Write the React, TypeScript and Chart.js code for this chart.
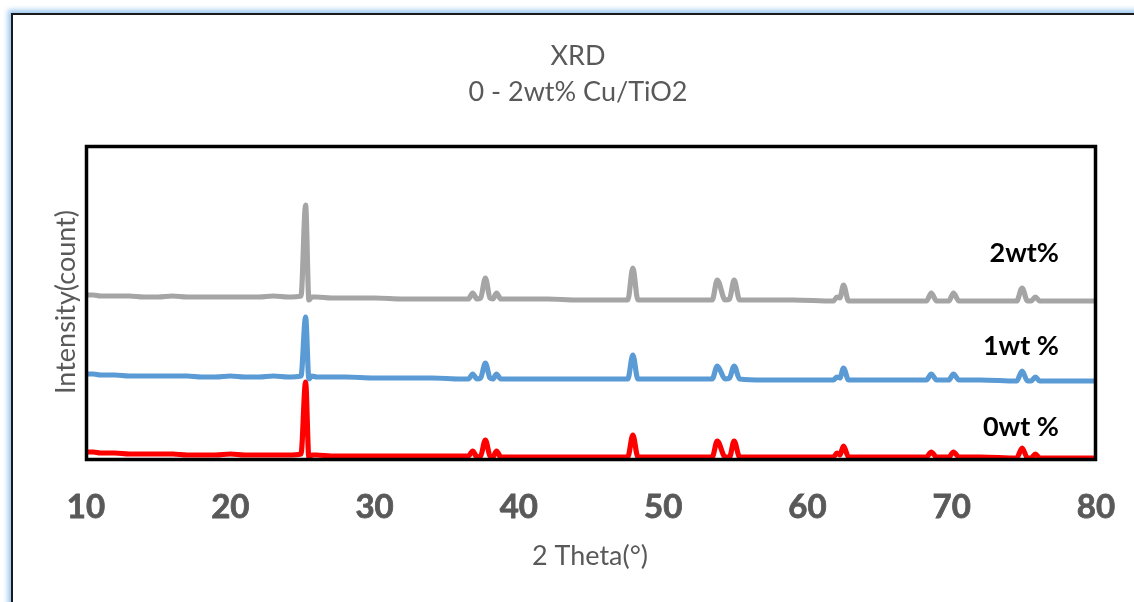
import React, { useEffect, useRef } from "react";
import { Chart, registerables } from "chart.js";

Chart.register(...registerables);

// 2-theta positions (degrees)
const theta = [
  10, 10.5, 11, 12, 13, 14, 15, 16, 17, 18, 19, 20, 21, 22, 23, 24,
  24.9, 25.22, 25.45, 25.65, 26, 27, 28,
  30, 32, 34, 36,
  36.5, 36.8, 37.1, 37.35, 37.68, 38.0, 38.2, 38.45, 38.75,
  40, 42, 44, 46,
  47.55, 47.9, 48.25,
  50, 52, 53.4,
  53.75, 54.3, 54.6, 54.92, 55.3,
  57, 59, 61.8,
  62.05, 62.25, 62.5, 62.85,
  65, 67, 68.25,
  68.58, 68.95, 69.8, 70.12, 70.5,
  72, 74.5,
  74.88, 75.25, 75.5, 75.8, 76.1,
  78, 80,
];

// intensity (arbitrary counts, stacked offsets as drawn)
const wt2 = [
  165, 165, 164, 164, 164, 163, 163, 164, 163, 163, 163, 163, 163, 163, 164, 163,
  164, 255, 160, 163, 163, 162, 162,
  162, 161, 161, 161,
  161, 167, 161, 162, 182, 162, 161, 167, 161,
  161, 161, 160, 160,
  160, 192, 160,
  160, 160, 160,
  180, 160, 161, 180, 160,
  160, 160, 159,
  163, 162, 175, 159,
  159, 159, 159,
  167, 159, 159, 167, 159,
  159, 159,
  172, 159, 159, 163, 159,
  159, 159,
];

const wt1 = [
  86, 86, 85, 85, 84, 84, 84, 84, 84, 83, 83, 84, 83, 83, 84, 83,
  84, 143, 81, 84, 83, 83, 83,
  82, 82, 82, 81,
  81, 86, 81, 82, 97, 82, 81, 86, 81,
  81, 81, 81, 81,
  81, 105, 81,
  81, 81, 81,
  94, 81, 82, 94, 81,
  80, 80, 80,
  83, 82, 92, 80,
  80, 80, 80,
  86, 80, 80, 86, 80,
  80, 79,
  89, 79, 79, 83, 79,
  79, 79,
];

const wt0 = [
  8, 8, 7, 7, 6, 6, 6, 6, 5, 5, 5, 6, 5, 5, 5, 5,
  6, 78, 2, 5, 5, 4, 4,
  4, 4, 4, 4,
  4, 9, 3, 4, 20, 4, 3, 9, 3,
  3, 3, 3, 3,
  3, 25, 3,
  3, 3, 3,
  19, 3, 3, 19, 3,
  3, 3, 3,
  7, 5, 14, 3,
  3, 3, 3,
  8, 3, 3, 8, 3,
  3, 2,
  12, 2, 2, 6, 2,
  2, 2,
];

const seriesLabels = ["2wt%", "1wt %", "0wt %"];
const seriesColors = ["#A5A5A5", "#5B9BD5", "#FF0000"];
const titleLines = ["XRD", "0 - 2wt% Cu/TiO2"];
const xTitle = "2 Theta(°)";
const yTitle = "Intensity(count)";

const overlay = {
  id: "overlay",
  afterDatasetsDraw(chart: any) {
    const { ctx, chartArea } = chart;
    ctx.save();
    ctx.strokeStyle = "#000";
    ctx.lineWidth = 3.5;
    ctx.strokeRect(
      chartArea.left + 0.5,
      chartArea.top + 1.5,
      chartArea.right - chartArea.left - 1,
      chartArea.bottom - chartArea.top - 2
    );
    ctx.restore();
  },
  afterDraw(chart: any) {
    const { ctx } = chart;
    ctx.save();
    ctx.fillStyle = "#595959";
    ctx.textAlign = "center";
    ctx.textBaseline = "alphabetic";
    ctx.font = "27px Lato";
    ctx.fillText(titleLines[0], 578, 65);
    ctx.fillText(titleLines[1], 578, 101, 224);

    ctx.font = "27px Lato";
    ctx.fillText(xTitle, 590, 565, 116);

    ctx.save();
    ctx.translate(75, 302);
    ctx.rotate(-Math.PI / 2);
    ctx.fillText(yTitle, 0, 0, 184);
    ctx.restore();

    ctx.fillStyle = "#000";
    ctx.textAlign = "right";
    ctx.font = "bold 27px Lato";
    ctx.fillText(seriesLabels[0], 1059, 262, 73);
    ctx.fillText(seriesLabels[1], 1059, 355, 80);
    ctx.fillText(seriesLabels[2], 1059, 436, 82);
    ctx.restore();
  },
};

export default function App() {
  const ref = useRef<HTMLCanvasElement | null>(null);

  useEffect(() => {
    document.body.style.margin = "0";
    const canvas = ref.current;
    if (!canvas) return;
    const series = [wt2, wt1, wt0];
    const chart = new Chart(canvas, {
      type: "line",
      data: {
        datasets: series.map((vals, i) => ({
          label: seriesLabels[i],
          data: theta.map((t, j) => ({ x: t, y: vals[j] })),
          borderColor: seriesColors[i],
          backgroundColor: seriesColors[i],
          borderWidth: 5.2,
          pointRadius: 0,
          cubicInterpolationMode: "monotone" as const,
          borderJoinStyle: "round" as const,
          borderCapStyle: "round" as const,
          fill: false,
        })),
      },
      options: {
        responsive: false,
        animation: false,
        devicePixelRatio: 1,
        layout: { padding: { left: 86, top: 145, right: 38, bottom: 0 } },
        plugins: {
          legend: { display: false },
          title: { display: false },
          tooltip: { enabled: false },
        },
        scales: {
          x: {
            type: "linear",
            min: 10,
            max: 80,
            grid: { display: false, drawTicks: false },
            border: { display: false },
            ticks: {
              stepSize: 10,
              padding: 28,
              color: "#595959",
              textStrokeColor: "#595959",
              textStrokeWidth: 0.8,
              font: { family: "Lato", weight: "bold", size: 33 },
              maxRotation: 0,
            },
            afterFit: (s: any) => {
              s.height = 142;
              s.paddingLeft = 0;
              s.paddingRight = 0;
            },
          },
          y: {
            display: false,
            min: 0,
            max: 315,
          },
        },
      },
      plugins: [overlay],
    });
    return () => chart.destroy();
  }, []);

  return (
    <div
      style={{
        position: "relative",
        width: 1134,
        height: 602,
        overflow: "hidden",
        background: "#fff",
      }}
    >
      <div
        style={{
          position: "absolute",
          left: 11,
          top: 13,
          width: 1300,
          height: 800,
          border: "2px solid #1a1a1a",
          boxShadow: "0 0 5px 3px rgba(120,180,235,0.75)",
        }}
      />
      <canvas
        ref={ref}
        width={1134}
        height={602}
        style={{ position: "absolute", left: 0, top: 0 }}
      />
    </div>
  );
}
